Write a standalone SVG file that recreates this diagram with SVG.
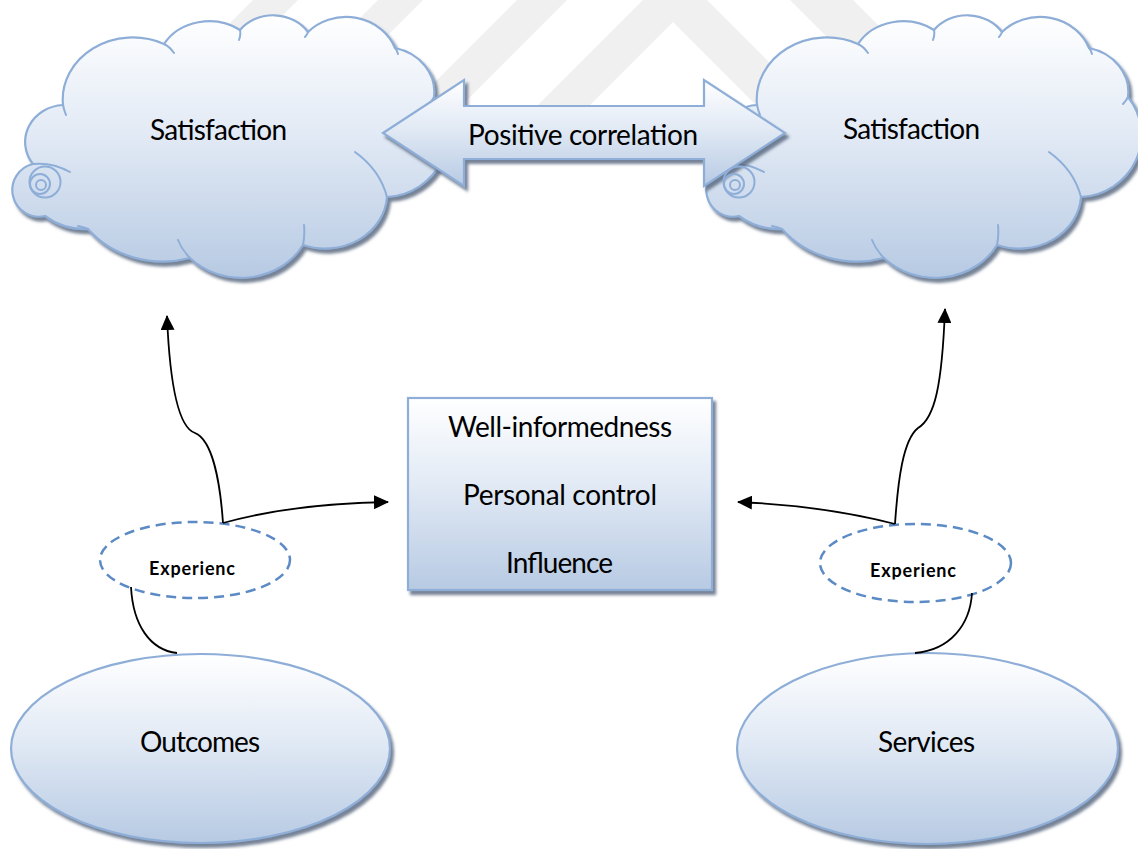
<svg xmlns="http://www.w3.org/2000/svg" width="1138" height="849" viewBox="0 0 1138 849">
  <defs>
    <linearGradient id="softFill" x1="0" y1="0" x2="0" y2="1">
      <stop offset="0" stop-color="#ffffff"/>
      <stop offset="0.45" stop-color="#e2eaf5"/>
      <stop offset="1" stop-color="#b7cae3"/>
    </linearGradient>
    <filter id="dropShadow" x="-10%" y="-10%" width="125%" height="130%">
      <feGaussianBlur in="SourceAlpha" stdDeviation="1.4"/>
      <feOffset dx="2.5" dy="3.5" result="off"/>
      <feFlood flood-color="#54647c" flood-opacity="0.8"/>
      <feComposite in2="off" operator="in"/>
      <feMerge>
        <feMergeNode/>
        <feMergeNode in="SourceGraphic"/>
      </feMerge>
    </filter>
    <marker id="arrowHead" markerWidth="15" markerHeight="14" refX="14" refY="7" orient="auto" markerUnits="userSpaceOnUse">
      <path d="M0,0 L15,7 L0,14 Z" fill="#000"/>
    </marker>
    <!-- cloud outline: eleven bumps, drawn clockwise from the upper-left -->
    <path id="cloudOutline" d="M63,105 A70,62 0 0 1 164,44 A52,45 0 0 1 240,30 A42,38 0 0 1 308,32 A52,47 0 0 1 395,48 A50,45 0 0 1 434,97 A64,62 0 0 1 387,197 A62,55 0 0 1 303,245 A70,62 0 0 1 190,258 A95,85 0 0 1 88,229 A60,50 0 0 1 45,216 A26,26 0 0 1 33,164 A40,37 0 0 1 63,105 Z"/>
    <!-- inner strokes where the bumps meet -->
    <path id="cloudSeams" d="M164,44 Q170,47 174,53 M240,30 Q241,35 239,40 M308,32 Q307,35 305,37 M395,48 Q397,50 398,54 M434,97 Q432,101 429,104 M387,197 Q380,170 355,152 M303,245 Q305,235 304,225 M190,258 Q182,250 178,240 M88,229 Q83,227 78,226 M33,164 Q52,162 70,172 M63,105 Q64,110 66,115"/>
    <g id="cloudCurl">
      <circle cx="45" cy="182" r="15.5"/>
      <circle cx="40" cy="184" r="10"/>
      <circle cx="41" cy="185" r="5"/>
    </g>
    <clipPath id="clipLeftTag"><rect x="90" y="500" width="210" height="77.5"/></clipPath>
    <clipPath id="clipRightTag"><rect x="810" y="500" width="210" height="79.5"/></clipPath>
  </defs>
  <style>
    .shape { fill: url(#softFill); stroke: #8eaed8; stroke-width: 2.2; }
    .seam { fill: none; stroke: #8eaed8; stroke-width: 2; stroke-linecap: round; }
    .label { font-family: Lato, "Open Sans", "Liberation Sans", sans-serif; font-size: 28px; fill: #000; text-anchor: middle; }
    .tag { font-weight: bold; font-size: 18px; }
    .dash { fill: none; stroke: #5b8ac5; stroke-width: 2.5; stroke-dasharray: 10 6; }
    .conn { fill: none; stroke: #000; stroke-width: 1.8; }
    .wm { fill: #f0f0f0; }
  </style>

  <rect width="1138" height="849" fill="#ffffff"/>

  <!-- faint background stripes -->
  <g id="backdrop">
    <polygon class="wm" points="253,0 298,0 148,150 103,150"/>
    <polygon class="wm" points="378,0 423,0 273,150 228,150"/>
    <polygon class="wm" points="517,0 567,0 417,150 367,150"/>
    <polygon class="wm" points="643,0 707,0 857,150 801,150 673,22 545,150 493,150"/>
    <polygon class="wm" points="790,0 853,0 1003,150 940,150"/>
  </g>

  <g id="satisfaction-left">
    <use href="#cloudOutline" class="shape" filter="url(#dropShadow)"/>
    <use href="#cloudSeams" class="seam"/>
    <use href="#cloudCurl" class="seam"/>
    <text class="label" x="218.5" y="140" textLength="137">Satisfaction</text>
  </g>

  <g id="satisfaction-right">
    <g transform="translate(694,0)">
      <use href="#cloudOutline" class="shape" filter="url(#dropShadow)"/>
      <use href="#cloudSeams" class="seam"/>
    </g>
    <text class="label" x="911.5" y="139" textLength="137">Satisfaction</text>
  </g>

  <g id="positive-correlation">
    <path class="shape" filter="url(#dropShadow)" d="M383,133 L464,80 L464,106 L704,106 L704,80 L785,133 L704,186 L704,159 L464,159 L464,186 Z"/>
    <text class="label" x="583" y="145" textLength="230">Positive correlation</text>
  </g>

  <!-- curl of the right cloud sits above the arrow head -->
  <g id="satisfaction-right-curl" transform="translate(694,0)">
    <use href="#cloudCurl" class="seam"/>
  </g>

  <g id="factors">
    <rect class="shape" filter="url(#dropShadow)" x="408" y="398" width="304" height="192"/>
    <text class="label" x="560" y="437" textLength="224">Well-informedness</text>
    <text class="label" x="560" y="505" textLength="194">Personal control</text>
    <text class="label" x="559.5" y="573" textLength="107">Influence</text>
  </g>

  <g id="outcomes">
    <ellipse class="shape" filter="url(#dropShadow)" cx="200.5" cy="748.5" rx="189.5" ry="94.5"/>
    <text class="label" x="200" y="752" textLength="120">Outcomes</text>
  </g>

  <g id="services">
    <ellipse class="shape" filter="url(#dropShadow)" cx="927.5" cy="748.5" rx="190.5" ry="95.5"/>
    <text class="label" x="926.5" y="752" textLength="97">Services</text>
  </g>

  <g id="experience-left">
    <ellipse class="dash" cx="195" cy="560" rx="95" ry="38"/>
    <text class="label tag" x="192" y="575" textLength="86" clip-path="url(#clipLeftTag)">Experienc</text>
  </g>

  <g id="experience-right">
    <ellipse class="dash" cx="915.5" cy="563" rx="95.5" ry="39"/>
    <text class="label tag" x="913" y="577" textLength="86" clip-path="url(#clipRightTag)">Experienc</text>
  </g>

  <g id="connectors">
    <path class="conn" marker-end="url(#arrowHead)" d="M223,523 C220,480 212,440 195,433 C180,428 170,390 167,316"/>
    <path class="conn" marker-end="url(#arrowHead)" d="M223,523 C270,510 320,503 388,502"/>
    <path class="conn" d="M131,587 C133,625 150,650 177,653"/>
    <path class="conn" marker-end="url(#arrowHead)" d="M895,524 C898,480 903,440 918,428 C935,418 942,385 945,309"/>
    <path class="conn" marker-end="url(#arrowHead)" d="M895,524 C860,515 810,505 738,502"/>
    <path class="conn" d="M972,593 C970,625 950,650 915,653"/>
  </g>
</svg>
